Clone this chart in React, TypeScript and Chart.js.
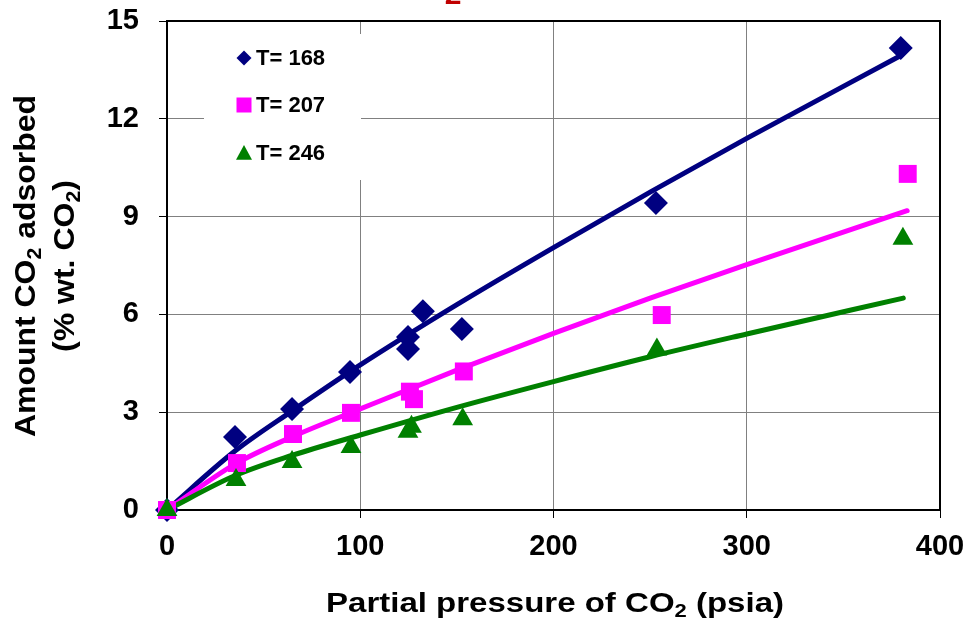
import React, { useEffect, useRef } from 'react';
import { Chart, registerables } from 'chart.js';

Chart.register(...registerables);

// ---- data ----
const t168X = [0, 35.2, 64.7, 94.7, 124.7, 124.7, 132.4, 152.6, 253, 379.7];
const t168Y = [0, 2.24, 3.1, 4.23, 5.31, 4.94, 6.1, 5.55, 9.42, 14.17];

const t207X = [0, 36.2, 65.2, 95.2, 125.7, 127.8, 153.6, 256, 383.3];
const t207Y = [0, 1.44, 2.33, 2.98, 3.63, 3.4, 4.25, 5.98, 10.31];

const t246X = [0, 35.7, 64.7, 95.2, 124.7, 126.5, 153, 253.5, 380.8];
const t246Y = [0, 0.92, 1.47, 1.93, 2.4, 2.55, 2.78, 4.92, 8.32];

const fit168X = [0, 35, 65, 100, 150, 200, 250, 300, 380];
const fit168Y = [0, 1.8, 3.05, 4.45, 6.3, 8.05, 9.75, 11.4, 13.95];
const fit207X = [0, 35, 65, 100, 150, 200, 250, 300, 383];
const fit207Y = [0, 1.4, 2.25, 3.1, 4.29, 5.42, 6.5, 7.53, 9.18];
const fit246X = [0, 35, 65, 100, 150, 200, 250, 300, 381];
const fit246Y = [0, 1.05, 1.68, 2.3, 3.15, 3.94, 4.7, 5.4, 6.5];

const seriesLabels = ['T= 168', 'T= 207', 'T= 246'];
const seriesColors = ['#000080', '#FF00FF', '#008000'];
const seriesShapes = ['rectRot', 'rect', 'triangle'];

const xMin = 0, xMax = 400, xStep = 100;
const yMin = 0, yMax = 15, yStep = 3;

type Part = { t: string; sub?: boolean };
const xTitle: Part[] = [{ t: 'Partial pressure of CO' }, { t: '2', sub: true }, { t: ' (psia)' }];
const yTitle1: Part[] = [{ t: 'Amount CO' }, { t: '2', sub: true }, { t: ' adsorbed' }];
const yTitle2: Part[] = [{ t: '(% wt. CO' }, { t: '2', sub: true }, { t: ')' }];
const topText = '2';

const FF = "'Liberation Sans', Arial, Helvetica, sans-serif";

function pts(xs: number[], ys: number[]) {
  return xs.map((x, i) => ({ x, y: ys[i] }));
}

function drawRich(ctx: CanvasRenderingContext2D, parts: Part[], x: number, y: number, size: number, target: number) {
  const base = `bold ${size}px ${FF}`;
  const sub = `bold ${Math.round(size * 0.68)}px ${FF}`;
  const widths = parts.map((p) => {
    ctx.font = p.sub ? sub : base;
    return ctx.measureText(p.t).width;
  });
  const total = widths.reduce((a, b) => a + b, 0);
  const sx = target / total;
  ctx.save();
  ctx.translate(x, y);
  ctx.scale(sx, 1);
  let cx = -total / 2;
  ctx.textAlign = 'left';
  ctx.textBaseline = 'alphabetic';
  parts.forEach((p, i) => {
    ctx.font = p.sub ? sub : base;
    ctx.fillText(p.t, cx, p.sub ? size * 0.2 : 0);
    cx += widths[i];
  });
  ctx.restore();
}

function drawMarker(ctx: CanvasRenderingContext2D, shape: string, x: number, y: number, r: number) {
  ctx.beginPath();
  if (shape === 'rectRot') {
    ctx.moveTo(x - r, y);
    ctx.lineTo(x, y - r);
    ctx.lineTo(x + r, y);
    ctx.lineTo(x, y + r);
  } else if (shape === 'rect') {
    ctx.rect(x - r, y - r, 2 * r, 2 * r);
  } else {
    ctx.moveTo(x, y - r);
    ctx.lineTo(x + r, y + r * 0.85);
    ctx.lineTo(x - r, y + r * 0.85);
  }
  ctx.closePath();
  ctx.fill();
}

const framePlugin = {
  id: 'frameAndLegend',
  beforeDatasetsDraw(chart: any) {
    const { ctx, chartArea } = chart;
    ctx.save();
    // legend box
    ctx.fillStyle = '#ffffff';
    ctx.fillRect(204, 34, 157, 146);
    // frame
    ctx.strokeStyle = '#000';
    ctx.lineWidth = 2;
    ctx.strokeRect(chartArea.left, chartArea.top, chartArea.right - chartArea.left, chartArea.bottom - chartArea.top);
    // legend entries
    const ys = [58, 105, 153];
    const sizes = [7.5, 7.5, 8];
    seriesLabels.forEach((lab, i) => {
      ctx.fillStyle = seriesColors[i];
      drawMarker(ctx, seriesShapes[i], 244, ys[i], sizes[i]);
      ctx.fillStyle = '#000';
      ctx.font = `bold 22px ${FF}`;
      ctx.textAlign = 'left';
      ctx.textBaseline = 'middle';
      ctx.fillText(lab, 256, ys[i] + 1);
    });
    ctx.restore();
  },
  afterDraw(chart: any) {
    const { ctx } = chart;
    ctx.save();
    ctx.fillStyle = '#000';
    drawRich(ctx, xTitle, 555, 612, 27, 458);
    ctx.save();
    ctx.translate(35, 266);
    ctx.rotate(-Math.PI / 2);
    drawRich(ctx, yTitle1, 0, 0, 30, 342);
    ctx.restore();
    ctx.save();
    ctx.translate(74, 266);
    ctx.rotate(-Math.PI / 2);
    drawRich(ctx, yTitle2, 0, 0, 30, 172);
    ctx.restore();
    ctx.fillStyle = '#C00000';
    ctx.font = `bold 30px ${FF}`;
    ctx.textAlign = 'center';
    ctx.textBaseline = 'alphabetic';
    ctx.fillText(topText, 453, 4);
    ctx.restore();
  },
};

export default function App() {
  const ref = useRef<HTMLCanvasElement | null>(null);

  useEffect(() => {
    document.body.style.margin = '0';
    if (!ref.current) return;
    const fitDs = (xs: number[], ys: number[], color: string) => ({
      type: 'line' as const,
      data: pts(xs, ys),
      borderColor: color,
      backgroundColor: color,
      borderWidth: 5,
      pointRadius: 0,
      showLine: true,
      fill: false,
      cubicInterpolationMode: 'monotone' as const,
      borderCapStyle: 'round' as const,
      clip: false,
      order: 5,
    });
    const markDs = (xs: number[], ys: number[], i: number, r: number, order: number) => ({
      type: 'scatter' as const,
      label: seriesLabels[i],
      data: pts(xs, ys),
      pointStyle: seriesShapes[i],
      pointRadius: r,
      pointBackgroundColor: seriesColors[i],
      pointBorderColor: seriesColors[i],
      pointBorderWidth: 0,
      showLine: false,
      clip: false,
      order,
    });
    const chart = new Chart(ref.current, {
      type: 'scatter',
      data: {
        datasets: [
          markDs(t246X, t246Y, 2, 12, 0),
          markDs(t207X, t207Y, 1, 12.7, 1),
          markDs(t168X, t168Y, 0, 12, 2),
          fitDs(fit246X, fit246Y, seriesColors[2]),
          fitDs(fit207X, fit207Y, seriesColors[1]),
          fitDs(fit168X, fit168Y, seriesColors[0]),
        ] as any,
      },
      options: {
        responsive: false,
        animation: false,
        layout: { padding: { left: 0, right: 27, top: 21, bottom: 0 } },
        plugins: { legend: { display: false }, tooltip: { enabled: false }, title: { display: false } },
        scales: {
          x: {
            type: 'linear',
            min: xMin,
            max: xMax,
            ticks: { stepSize: xStep, color: '#000', padding: 12, font: { family: FF, size: 29, weight: 'bold' } },
            grid: { color: '#808080', lineWidth: 1, tickLength: 8, tickColor: '#000' },
            border: { display: true, color: '#000', width: 2 },
            afterFit: (s: any) => {
              s.height = 110;
              s.paddingLeft = 0;
              s.paddingRight = 0;
              s.paddingTop = 0;
              s.paddingBottom = 0;
            },
          },
          y: {
            type: 'linear',
            min: yMin,
            max: yMax,
            ticks: { stepSize: yStep, color: '#000', padding: 20, font: { family: FF, size: 29, weight: 'bold' } },
            grid: { color: '#808080', lineWidth: 1, tickLength: 8, tickColor: '#000' },
            border: { display: true, color: '#000', width: 2 },
            afterFit: (s: any) => {
              s.width = 167;
              s.paddingLeft = 0;
              s.paddingRight = 0;
              s.paddingTop = 0;
              s.paddingBottom = 0;
            },
          },
        },
      } as any,
      plugins: [framePlugin],
    });
    return () => chart.destroy();
  }, []);

  return (
    <div style={{ position: 'absolute', left: 0, top: 0, width: 967, height: 620, background: '#fff' }}>
      <canvas ref={ref} width={967} height={620} style={{ width: 967, height: 620, display: 'block' }} />
    </div>
  );
}
